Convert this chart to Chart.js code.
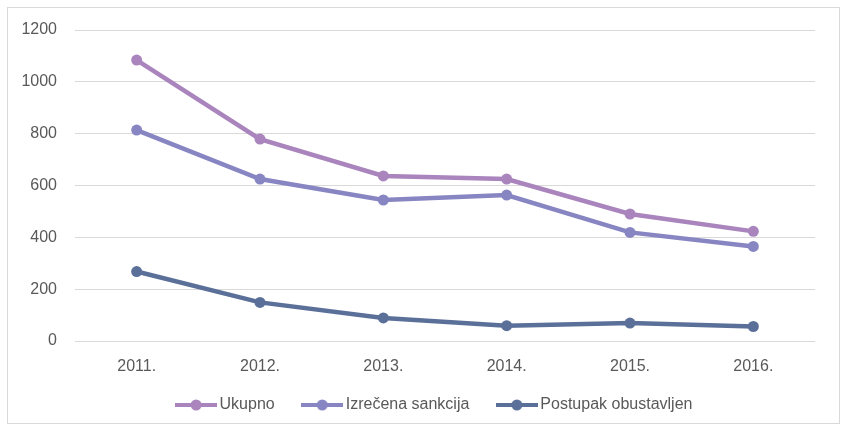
<!DOCTYPE html>
<html>
<head>
<meta charset="utf-8">
<script src="https://cdn.jsdelivr.net/npm/chart.js@4.4.1/dist/chart.umd.min.js"></script>
<style>
    html, body { margin: 0; padding: 0; background: #ffffff; }
    #wrap { width: 847px; height: 431px; position: relative; }
</style>
</head>
<body>
<div id="wrap"><canvas id="lineChart"></canvas></div>
<script>
// Chart data
const years = ['2011.', '2012.', '2013.', '2014.', '2015.', '2016.'];
const ukupno = [1084, 779, 637, 625, 490, 423];
const izrecenaSankcija = [814, 625, 544, 563, 419, 365];
const postupakObustavljen = [268, 149, 89, 59, 69, 56];
const yTicks = [0, 200, 400, 600, 800, 1000, 1200];

const seriesNames = ['Ukupno', 'Izrečena sankcija', 'Postupak obustavljen'];
const seriesColors = ['#a984bd', '#8885c3', '#5b7099'];
const textColor = '#595959';
const gridColor = '#d9d9d9';
const fontFamily = "'Liberation Sans', Arial, sans-serif";

// Legend icon: short line with a dot in the middle
function makeLegendIcon(color) {
    const c = document.createElement('canvas');
    c.width = 42;
    c.height = 12;
    const ctx = c.getContext('2d');
    ctx.strokeStyle = color;
    ctx.lineWidth = 4;
    ctx.beginPath();
    ctx.moveTo(0, 6);
    ctx.lineTo(42, 6);
    ctx.stroke();
    ctx.fillStyle = color;
    ctx.beginPath();
    ctx.arc(21, 6, 5.5, 0, Math.PI * 2);
    ctx.fill();
    return c;
}
const legendIcons = seriesColors.map(makeLegendIcon);

// Outer frame like the Excel chart area
const framePlugin = {
    id: 'frame',
    beforeDraw(chart) {
        const ctx = chart.ctx;
        ctx.save();
        ctx.strokeStyle = gridColor;
        ctx.lineWidth = 1;
        ctx.strokeRect(7.5, 7.5, 832, 416);
        ctx.restore();
    }
};

// Fix the legend height and shift it so it sits under the plot area
const legendSizePlugin = {
    id: 'legendSize',
    beforeInit(chart) {
        const origFit = chart.legend.fit;
        chart.legend.fit = function() {
            origFit.bind(chart.legend)();
            this.height = 58;
        };
    },
    afterLayout(chart) {
        chart.legend.left += 58;
        chart.legend.top -= 8;
        chart.legend.bottom -= 8;
    }
};

function makeDataset(i, values) {
    return {
        label: seriesNames[i],
        data: values,
        borderColor: seriesColors[i],
        backgroundColor: seriesColors[i],
        pointBackgroundColor: seriesColors[i],
        pointBorderColor: seriesColors[i],
        borderWidth: 4.5,
        pointRadius: 5.5,
        pointBorderWidth: 0,
        tension: 0
    };
}

document.addEventListener('DOMContentLoaded', function() {
    const ctx = document.getElementById('lineChart');
    new Chart(ctx, {
        type: 'line',
        data: {
            labels: years,
            datasets: [
                makeDataset(0, ukupno),
                makeDataset(1, izrecenaSankcija),
                makeDataset(2, postupakObustavljen)
            ]
        },
        plugins: [framePlugin, legendSizePlugin],
        options: {
            responsive: true,
            maintainAspectRatio: false,
            animation: false,
            layout: {
                padding: { left: 0, right: 32, top: 30, bottom: 0 }
            },
            plugins: {
                tooltip: { enabled: false },
                legend: {
                    position: 'bottom',
                    labels: {
                        color: textColor,
                        font: { family: fontFamily, size: 16 },
                        usePointStyle: true,
                        pointStyleWidth: 31,
                        padding: 32,
                        generateLabels: function(chart) {
                            const items = Chart.defaults.plugins.legend.labels.generateLabels(chart);
                            items.forEach((item, i) => {
                                item.pointStyle = legendIcons[i];
                            });
                            return items;
                        }
                    }
                }
            },
            scales: {
                x: {
                    offset: true,
                    grid: { display: false, drawTicks: false },
                    border: { display: false },
                    ticks: {
                        color: textColor,
                        font: { family: fontFamily, size: 16 },
                        padding: 16
                    },
                    afterFit: function(scale) { scale.height = 32; }
                },
                y: {
                    min: 0,
                    max: 1200,
                    afterBuildTicks: function(scale) {
                        scale.ticks = yTicks.map(v => ({ value: v }));
                    },
                    grid: { color: gridColor, lineWidth: 1, drawTicks: false },
                    border: { display: false },
                    ticks: {
                        color: textColor,
                        font: { family: fontFamily, size: 16 },
                        padding: 18,
                        callback: function(value) { return String(value); }
                    },
                    afterFit: function(scale) { scale.width = 75; }
                }
            }
        }
    });
});
</script>
</body>
</html>
